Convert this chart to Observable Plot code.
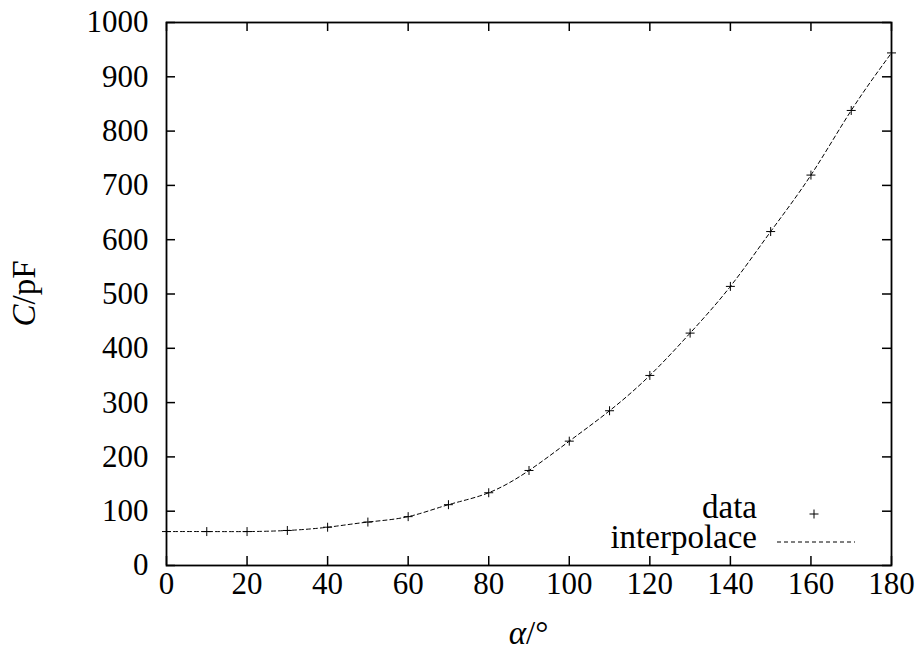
<!DOCTYPE html>
<html><head><meta charset="utf-8">
<script src="https://cdn.jsdelivr.net/npm/d3@7"></script>
<script src="https://cdn.jsdelivr.net/npm/@observablehq/plot@0.6"></script>
<style>
html,body{margin:0;padding:0;background:#fff}
</style>
</head><body><div id="chart"></div>
<script>
// ---- data ----
const angles = [0, 10, 20, 30, 40, 50, 60, 70, 80, 90, 100, 110, 120, 130, 140, 150, 160, 170, 180];
const capacitance = [62.5, 62.5, 62.5, 64.5, 70.5, 80, 90, 112, 134, 175, 229, 285, 350, 428, 514, 615, 719, 838, 944];
const xTicks = [0, 20, 40, 60, 80, 100, 120, 140, 160, 180];
const yTicks = [0, 100, 200, 300, 400, 500, 600, 700, 800, 900, 1000];
const legendLabels = ["data", "interpolace"];
const xLabel = ["α", "/°"];
const yLabel = ["C", "/pF"];

const W = 921, H = 653;
const M = {left: 166, right: 30, top: 22, bottom: 88};
const FW = W - M.left - M.right, FH = H - M.top - M.bottom;
const FONT = "Liberation Serif";
const FS = 31;      // tick labels
const FS_TXT = 33;  // legend and titles
const TICK = 9;

const data = angles.map((a, i) => ({a, c: capacitance[i]}));

function overlay(draw) {
  return (index, scales, values, dims) => {
    const g = d3.create("svg:g")
      .attr("font-family", FONT).attr("font-size", FS_TXT).attr("fill", "black");
    draw(g, dims);
    return g.node();
  };
}

const chart = Plot.plot({
  width: W, height: H,
  marginLeft: M.left, marginRight: M.right, marginTop: M.top, marginBottom: M.bottom,
  style: {fontFamily: FONT, fontSize: FS + "px", color: "black", background: "white", overflow: "visible"},
  x: {domain: [0, 180]},
  y: {domain: [0, 1000]},
  marks: [
    Plot.line(data, {x: "a", y: "c", curve: "natural", stroke: "black", strokeWidth: 1, strokeDasharray: "4,3"}),
    Plot.dot(data, {x: "a", y: "c", symbol: "plus", r: 3, stroke: "black", strokeWidth: 1}),
    // inward ticks on all four sides
    Plot.tickX(xTicks, {x: d => d, insetTop: FH - TICK, stroke: "black", strokeWidth: 1.5}),
    Plot.tickX(xTicks, {x: d => d, insetBottom: FH - TICK, stroke: "black", strokeWidth: 1.5}),
    Plot.tickY(yTicks, {y: d => d, insetRight: FW - TICK, stroke: "black", strokeWidth: 1.5}),
    Plot.tickY(yTicks, {y: d => d, insetLeft: FW - TICK, stroke: "black", strokeWidth: 1.5}),
    Plot.frame({stroke: "black", strokeWidth: 1.8}),
    // tick labels
    Plot.axisX({ticks: xTicks, anchor: "bottom", tickSize: 0, tickPadding: 6, label: null, fontSize: FS, tickFormat: d => String(d)}),
    Plot.axisY({ticks: yTicks, anchor: "left", tickSize: 0, tickPadding: 18, label: null, fontSize: FS, tickFormat: d => String(d)}),
    // axis titles
    overlay((g, d) => {
      const cx = d.marginLeft + (d.width - d.marginLeft - d.marginRight) / 2;
      const t = g.append("text").attr("x", cx).attr("y", d.height - 9).attr("text-anchor", "middle");
      t.append("tspan").attr("font-style", "italic").text(xLabel[0]);
      t.append("tspan").text(xLabel[1]);
      const cy = d.marginTop + (d.height - d.marginTop - d.marginBottom) / 2;
      const t2 = g.append("text").attr("transform", `translate(35,${cy}) rotate(-90)`).attr("text-anchor", "middle");
      t2.append("tspan").attr("font-style", "italic").text(yLabel[0]);
      t2.append("tspan").text(yLabel[1]);
    }),
    // legend
    overlay((g, d) => {
      const right = d.width - d.marginRight, bottom = d.height - d.marginBottom;
      const tx = right - 134;
      g.append("text").attr("x", tx).attr("y", bottom - 47).attr("text-anchor", "end").text(legendLabels[0]);
      g.append("text").attr("x", tx).attr("y", bottom - 17).attr("text-anchor", "end").text(legendLabels[1]);
      const px = right - 77, py = bottom - 51;
      g.append("path").attr("d", `M${px - 4.5},${py}h9M${px},${py - 4.5}v9`).attr("stroke", "black").attr("stroke-width", 1).attr("fill", "none");
      g.append("line").attr("x1", right - 114).attr("x2", right - 36).attr("y1", bottom - 23).attr("y2", bottom - 23)
        .attr("stroke", "black").attr("stroke-width", 1).attr("stroke-dasharray", "4,3");
    })
  ]
});
document.getElementById("chart").appendChild(chart);
</script>
</body></html>
